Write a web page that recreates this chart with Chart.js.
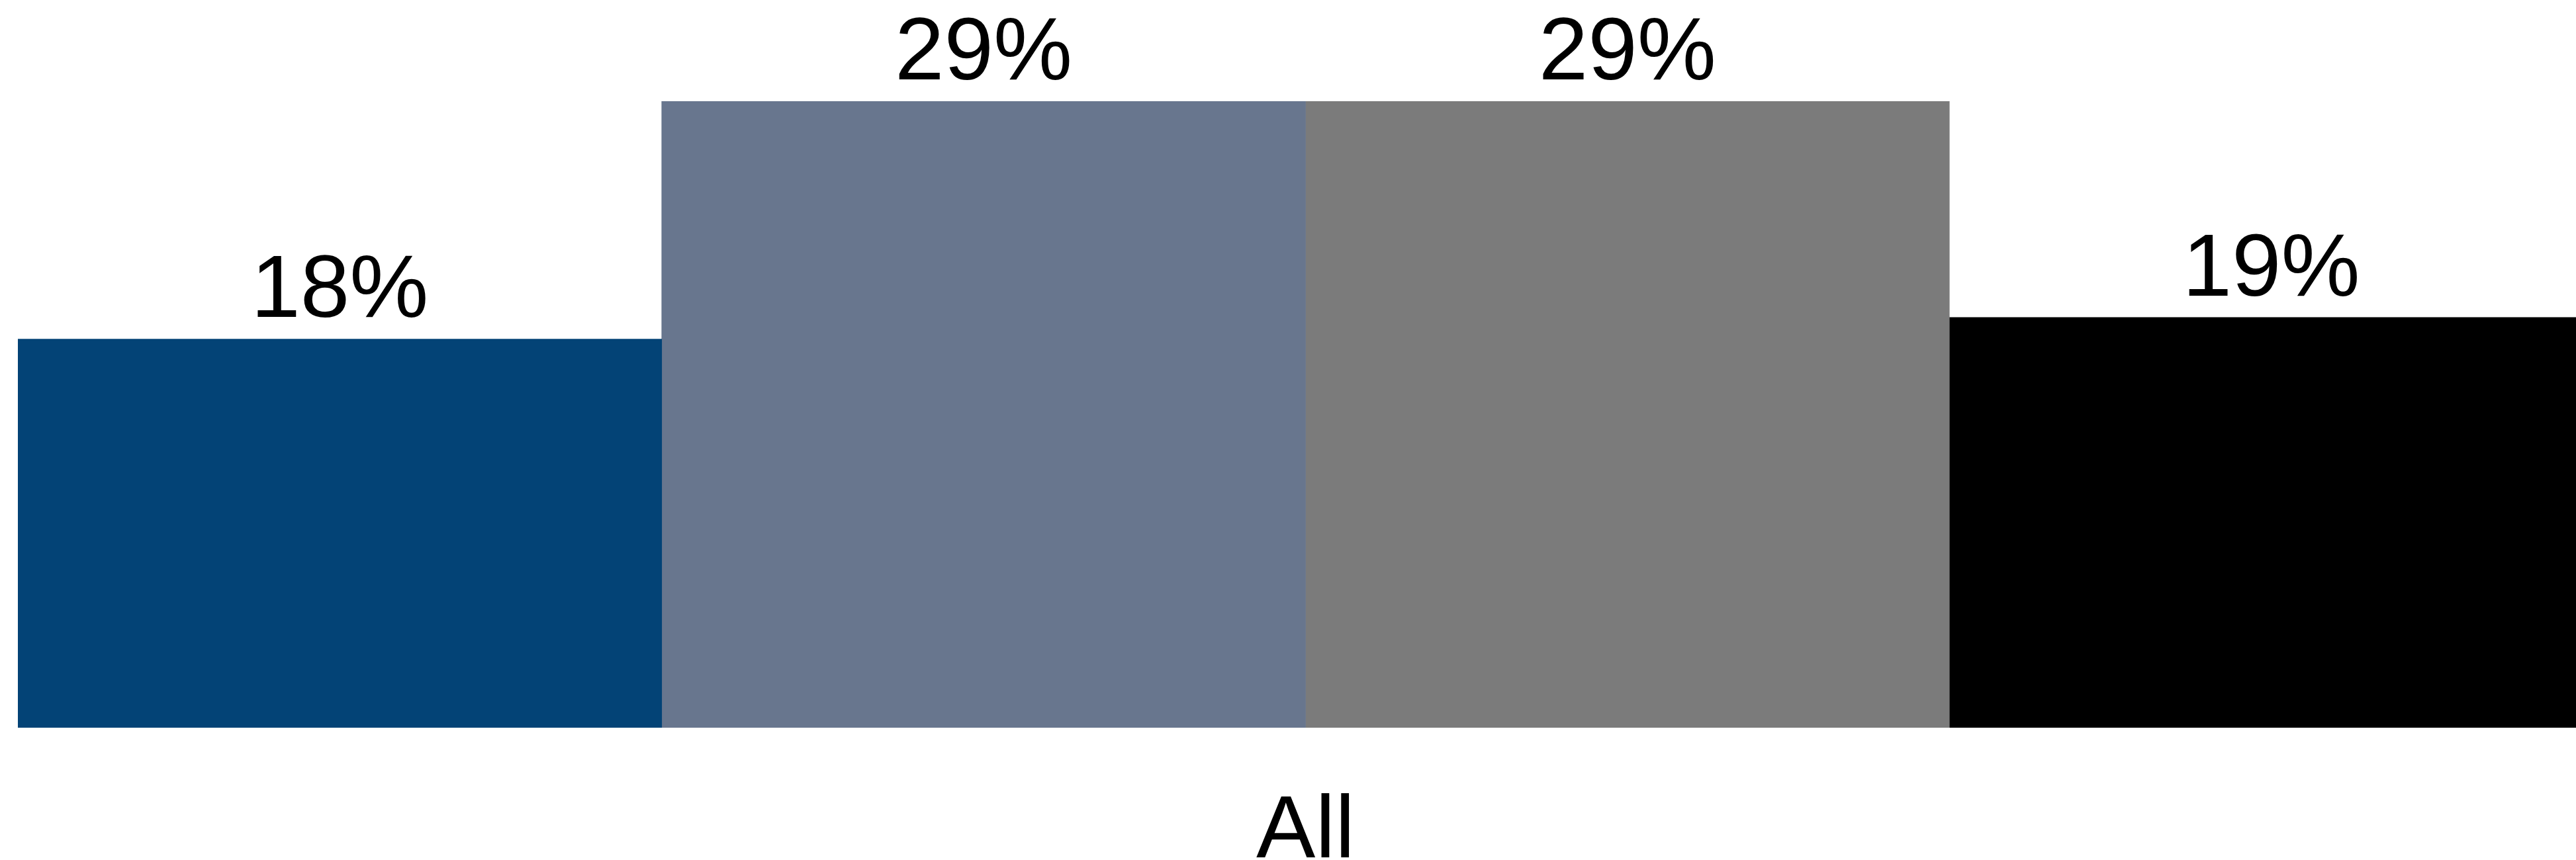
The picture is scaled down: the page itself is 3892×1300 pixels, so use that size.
<!DOCTYPE html>
<html>
<head>
<meta charset="utf-8">
<script src="https://cdn.jsdelivr.net/npm/chart.js@4/dist/chart.umd.min.js"></script>
<style>
  html, body { margin: 0; padding: 0; background: #fff; overflow: hidden; }
  #wrap { width: 3918px; height: 1300px; }
</style>
</head>
<body>
<div id="wrap"><canvas id="myChart" width="3918" height="1300"></canvas></div>
<script>
// data
const categories = ["All"];
const seriesNames = ["Series 1", "Series 2", "Series 3", "Series 4"];
const seriesValues = [18, 29, 29, 19];
const seriesColors = ["#034376", "#68768e", "#7b7b7b", "#000000"];

const FONT = "'Liberation Sans', Arial, Helvetica, sans-serif";

// draw the percentage above each bar
const valueLabels = {
  id: "valueLabels",
  afterDatasetsDraw(chart) {
    const ctx = chart.ctx;
    ctx.save();
    ctx.font = "134px " + FONT;
    ctx.fillStyle = "#000";
    ctx.textAlign = "center";
    ctx.textBaseline = "alphabetic";
    chart.data.datasets.forEach((ds, i) => {
      const meta = chart.getDatasetMeta(i);
      meta.data.forEach((bar, j) => {
        ctx.fillText(ds.data[j] + "%", bar.x, bar.y - 33);
      });
    });
    ctx.restore();
  },
};

const datasets = seriesValues.map((v, i) => ({
  label: seriesNames[i],
  data: [v],
  backgroundColor: seriesColors[i],
  borderWidth: 0,
  barPercentage: 1,
  categoryPercentage: 1,
}));

new Chart(document.getElementById("myChart").getContext("2d"), {
  type: "bar",
  data: { labels: categories, datasets: datasets },
  options: {
    responsive: false,
    animation: false,
    devicePixelRatio: 1,
    layout: { padding: { left: 27, right: 0, top: 0, bottom: 0 } },
    plugins: {
      legend: { display: false },
      tooltip: { enabled: false },
    },
    scales: {
      x: {
        grid: { display: false },
        border: { display: false },
        ticks: {
          color: "#000",
          font: { family: FONT, size: 134 },
          padding: 71,
          maxRotation: 0,
        },
        afterFit: (axis) => {
          axis.height = 200;
        },
      },
      y: {
        display: false,
        min: 0,
        max: 33.7,
      },
    },
  },
  plugins: [valueLabels],
});
</script>
</body>
</html>
